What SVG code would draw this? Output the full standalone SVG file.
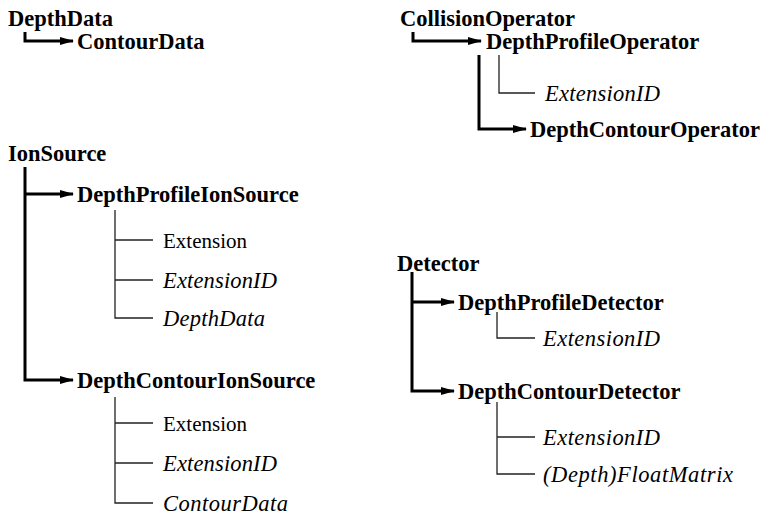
<svg xmlns="http://www.w3.org/2000/svg" width="765" height="517" viewBox="0 0 765 517">
<defs>
<marker id="ah" markerWidth="14" markerHeight="10" refX="13" refY="5" orient="auto" markerUnits="userSpaceOnUse">
<path d="M0,1 L14,5 L0,9 Z" fill="#000"/>
</marker>
<style>
.b{font-family:"Liberation Serif","Times New Roman",serif;font-weight:bold;font-size:22.5px;fill:#000}
.r{font-family:"Liberation Serif","Times New Roman",serif;font-size:21px;fill:#000}
.i{font-family:"Liberation Serif","Times New Roman",serif;font-style:italic;font-size:22.5px;fill:#000}
.thick{fill:none;stroke:#000;stroke-width:3}
.thin{fill:none;stroke:#222;stroke-width:1.3}
</style>
</defs>
<rect width="765" height="517" fill="#fff"/>
<g id="connectors">
<path class="thick" d="M25,32 V41 H73" marker-end="url(#ah)"/>
<path class="thick" d="M25,167 V380 H73" marker-end="url(#ah)"/>
<path class="thick" d="M25,194 H73" marker-end="url(#ah)"/>
<path class="thin" d="M115,210 V318 H153 M115,240 H153 M115,280 H153"/>
<path class="thin" d="M115,397 V503 H153 M115,423 H153 M115,463 H153"/>
<path class="thick" d="M413,32 V41 H481" marker-end="url(#ah)"/>
<path class="thin" d="M499,55 V93 H535"/>
<path class="thick" d="M479,55 V129 H526" marker-end="url(#ah)"/>
<path class="thick" d="M412,272 V391 H454" marker-end="url(#ah)"/>
<path class="thick" d="M412,302 H454" marker-end="url(#ah)"/>
<path class="thin" d="M497,312 V338 H535"/>
<path class="thin" d="M497,402 V474 H535 M497,437 H535"/>
</g>
<g id="DepthData"><text class="b" x="8" y="26">DepthData</text></g>
<g id="ContourData"><text class="b" x="77" y="49">ContourData</text></g>
<g id="IonSource"><text class="b" x="8" y="161">IonSource</text></g>
<g id="DepthProfileIonSource"><text class="b" x="77" y="202">DepthProfileIonSource</text>
<text class="r" x="163" y="248">Extension</text>
<text class="i" x="163" y="288" textLength="114" lengthAdjust="spacing">ExtensionID</text>
<text class="i" x="163" y="326" textLength="102" lengthAdjust="spacing">DepthData</text></g>
<g id="DepthContourIonSource"><text class="b" x="77" y="388">DepthContourIonSource</text>
<text class="r" x="163" y="431">Extension</text>
<text class="i" x="163" y="471" textLength="114" lengthAdjust="spacing">ExtensionID</text>
<text class="i" x="163" y="511" textLength="125" lengthAdjust="spacing">ContourData</text></g>
<g id="CollisionOperator"><text class="b" x="400" y="26">CollisionOperator</text></g>
<g id="DepthProfileOperator"><text class="b" x="486" y="49">DepthProfileOperator</text>
<text class="i" x="545" y="101" textLength="115" lengthAdjust="spacing">ExtensionID</text></g>
<g id="DepthContourOperator"><text class="b" x="530" y="137">DepthContourOperator</text></g>
<g id="Detector"><text class="b" x="397" y="271">Detector</text></g>
<g id="DepthProfileDetector"><text class="b" x="458" y="310">DepthProfileDetector</text>
<text class="i" x="543" y="346" textLength="117" lengthAdjust="spacing">ExtensionID</text></g>
<g id="DepthContourDetector"><text class="b" x="458" y="399">DepthContourDetector</text>
<text class="i" x="543" y="445" textLength="117" lengthAdjust="spacing">ExtensionID</text>
<text class="i" x="543" y="482" textLength="190" lengthAdjust="spacing">(Depth)FloatMatrix</text></g>
</svg>
